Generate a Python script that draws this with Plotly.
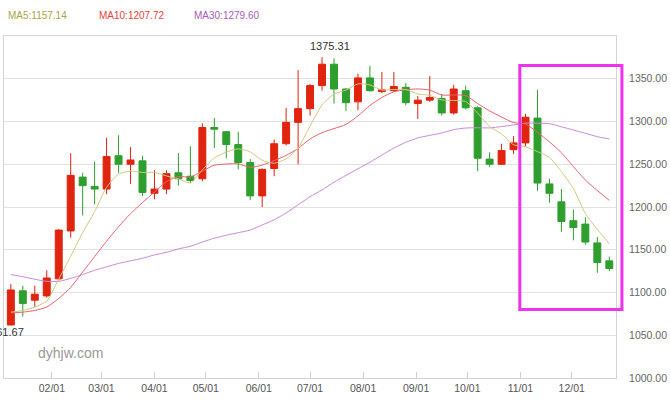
import pandas as pd
import plotly.graph_objects as go

# Weekly candles (week ending Friday), 2016
dates = pd.date_range("2016-01-08", periods=51, freq="7D")

opens = [1062, 1102, 1091, 1096, 1116, 1172, 1235, 1224, 1221, 1260,
         1250, 1254, 1216, 1221, 1240, 1236, 1233, 1293, 1288, 1273,
         1252, 1213, 1245, 1274, 1299, 1315, 1342, 1367, 1338, 1323,
         1351, 1335, 1336, 1340, 1321, 1325, 1327, 1310, 1336, 1316,
         1256, 1250, 1267, 1275, 1304, 1227, 1206, 1184, 1180, 1158,
         1137]
highs = [1110, 1108, 1108, 1126, 1174, 1263, 1240, 1253, 1281, 1284,
         1270, 1260, 1243, 1243, 1263, 1271, 1298, 1304, 1289, 1288,
         1256, 1245, 1279, 1316, 1360, 1344, 1375.31, 1374, 1339, 1356,
         1365, 1358, 1358, 1345, 1330, 1353, 1332, 1343, 1342, 1318,
         1264, 1274, 1283, 1309, 1337, 1233, 1221, 1197, 1188, 1165,
         1142]
lows = [1061.67, 1072, 1083, 1094, 1114, 1164, 1190, 1203, 1215, 1240,
        1227, 1213, 1209, 1215, 1225, 1228, 1230, 1269, 1257, 1244,
        1208, 1200, 1236, 1272, 1250, 1307, 1336, 1321, 1312, 1313,
        1335, 1333, 1335, 1319, 1303, 1323, 1307, 1308, 1314, 1242,
        1247, 1249, 1262, 1271, 1219, 1205, 1171, 1161, 1156, 1123,
        1125]
closes = [1103, 1087, 1098, 1117, 1173, 1237, 1225, 1221, 1259, 1250,
          1255, 1217, 1221, 1239, 1233, 1231, 1293, 1291, 1273, 1252,
          1213, 1244, 1274, 1299, 1315, 1342, 1367, 1338, 1322, 1351,
          1336, 1337, 1341, 1322, 1325, 1328, 1310, 1338, 1316, 1257,
          1250, 1266, 1275, 1305, 1228, 1216, 1183, 1176, 1159, 1135,
          1128]

ma5 = [1077, 1079, 1083, 1090, 1115.6, 1142.4, 1170, 1194.6, 1223, 1238.4,
       1242, 1240.4, 1240.4, 1236.4, 1233, 1228.2, 1243.4, 1257.4, 1264.2, 1268,
       1264.4, 1254.6, 1251.2, 1256.4, 1269, 1294.8, 1319.4, 1332.2, 1336.8, 1344,
       1342.8, 1336.8, 1337.4, 1337.4, 1332.2, 1330.6, 1325.2, 1324.6, 1323.4, 1309.8,
       1294.2, 1285.4, 1272.8, 1270.6, 1264.8, 1258, 1241.4, 1221.6, 1192.4, 1173.8,
       1157.14]
ma10 = [1076, 1077, 1079, 1083, 1093, 1106, 1124, 1142, 1160, 1177,
        1192.2, 1205.2, 1217.5, 1229.7, 1235.7, 1235.1, 1241.9, 1248.9, 1250.3, 1250.5,
        1246.3, 1249, 1254.3, 1260.3, 1268.5, 1279.6, 1287, 1291.7, 1296.6, 1306.5,
        1318.8, 1328.1, 1334.8, 1337.1, 1338.1, 1336.7, 1331, 1331, 1330.4, 1321,
        1312.4, 1305.3, 1298.7, 1297, 1287.3, 1276.1, 1263.4, 1247.2, 1231.5, 1219.3,
        1207.72]
ma30 = [1121, 1118.5, 1115.5, 1113, 1113, 1116.5, 1121, 1126, 1130, 1134,
        1137, 1140, 1144, 1147, 1151, 1154, 1159, 1163.5, 1167, 1170,
        1173, 1179, 1185, 1193, 1202.5, 1212, 1220, 1229, 1237, 1244.7,
        1252.4, 1260.8, 1268.9, 1275.7, 1280.8, 1283.8, 1286.6, 1290.5, 1292.4, 1292.7,
        1292.5, 1294.1, 1295.9, 1298.1, 1298, 1297.5, 1293.8, 1290, 1286.2, 1282.3,
        1279.6]

y_ticks = [1000, 1050, 1100, 1150, 1200, 1250, 1300, 1350]

FONT = "Liberation Sans, Arial, sans-serif"
UP = "#e0240f"
DOWN = "#2e9f2e"
C5_LINE, C5_TEXT = "#cfc882", "#aaa448"
C10_LINE, C10_TEXT = "#e8636b", "#e8433c"
C30_LINE, C30_TEXT = "#c98bd8", "#a85cb6"

fig = go.Figure()
fig.add_trace(go.Candlestick(
    x=dates, open=opens, high=highs, low=lows, close=closes,
    increasing=dict(line=dict(color=UP, width=1), fillcolor=UP),
    decreasing=dict(line=dict(color=DOWN, width=1), fillcolor=DOWN),
    whiskerwidth=0, showlegend=False, hoverinfo="skip",
))
for vals, col in ((ma30, C30_LINE), (ma10, C10_LINE), (ma5, C5_LINE)):
    fig.add_trace(go.Scatter(
        x=dates, y=vals, mode="lines",
        line=dict(color=col, width=1, shape="spline", smoothing=0.6),
        showlegend=False, hoverinfo="skip",
    ))

# max / min labels
imax = max(range(len(highs)), key=lambda i: highs[i])
imin = min(range(len(lows)), key=lambda i: lows[i])
fig.add_annotation(x=dates[imax], y=highs[imax], text=f"{highs[imax]:.2f}",
                   showarrow=False, xshift=8, yshift=11,
                   font=dict(family=FONT, size=11, color="#333"))
fig.add_annotation(x=dates[imin], y=lows[imin], text=f"{lows[imin]:.2f}",
                   showarrow=False, xshift=-7, yshift=-7,
                   font=dict(family=FONT, size=11, color="#333"))

# MA legend texts
for xp, label, val, col in ((0.003, "MA5", ma5[-1], C5_TEXT),
                            (0.152, "MA10", ma10[-1], C10_TEXT),
                            (0.308, "MA30", ma30[-1], C30_TEXT)):
    fig.add_annotation(xref="paper", yref="paper", x=xp, y=1.059,
                       xanchor="left", yanchor="middle", showarrow=False,
                       text=f"{label}:{val:.2f}",
                       font=dict(family=FONT, size=10, color=col))

# watermark
fig.add_annotation(xref="paper", yref="paper", x=0.052, y=0.073,
                   xanchor="left", yanchor="middle", showarrow=False,
                   text="dyhjw.com", font=dict(family=FONT, size=14, color="#999"))

# highlight box
fig.add_shape(type="rect", xref="paper", yref="paper",
              x0=0.8428, x1=1.0097, y0=0.2003, y1=0.9137,
              line=dict(color="#ee33ee", width=3), fillcolor="rgba(0,0,0,0)",
              layer="above")

fig.update_layout(
    width=670, height=400,
    margin=dict(l=3, r=50, t=36, b=22),
    paper_bgcolor="white", plot_bgcolor="white",
    font=dict(family=FONT, size=11, color="#555"),
    boxgap=0.42, boxgroupgap=0,
    showlegend=False,
    xaxis=dict(
        type="date", range=["2016-01-04", "2016-12-26 22:00"],
        dtick="M1", tickformat="%m/%d",
        showgrid=False, ticks="inside", ticklen=6, tickcolor="#cfcfcf",
        showline=True, linecolor="#d4d4d4", linewidth=1, mirror=True,
        rangeslider=dict(visible=False),
        tickfont=dict(family=FONT, size=10.5, color="#555"),
        zeroline=False, fixedrange=True,
    ),
    yaxis=dict(
        side="right", range=[1000, 1400],
        tickvals=y_ticks, tickformat=".2f",
        showgrid=True, gridcolor="#e2e2e2", gridwidth=1,
        showline=True, linecolor="#d4d4d4", linewidth=1, mirror=True,
        ticks="", ticklabelstandoff=10,
        tickfont=dict(family=FONT, size=10.5, color="#666"),
        zeroline=False, fixedrange=True,
    ),
)

fig.write_html("out.html",
               config={"displayModeBar": False},
               post_script="document.body.style.margin='0';document.body.style.padding='0';")
